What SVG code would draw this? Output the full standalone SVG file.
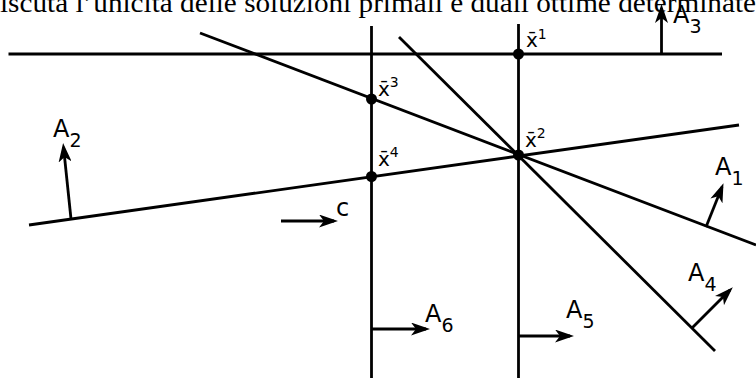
<svg xmlns="http://www.w3.org/2000/svg" width="756" height="378" viewBox="0 0 756 378">
<style>
.ln{stroke:#000;stroke-width:2.8;fill:none}
.ar{stroke:#000;stroke-width:2.8;fill:none;marker-end:url(#ah)}
.lb{font-family:"DejaVu Sans",sans-serif;font-size:24px;fill:#000}
.sb{font-size:19px}
.pt{font-family:"DejaVu Sans",sans-serif;font-size:20px;fill:#000}
.sp{font-size:14px}
.hd{font-family:"Liberation Serif",serif;font-size:28px;fill:#000}
</style>
<defs>
<marker id="ah" markerUnits="userSpaceOnUse" viewBox="0 0 19 13" refX="15" refY="6.5" markerWidth="19" markerHeight="13" orient="auto">
<path d="M0,0 L19,6.5 L0,13 L5,6.5 Z" fill="#000"/>
</marker>
</defs>
<rect width="756" height="378" fill="#fff"/>
<text class="hd" x="0" y="12" textLength="756" lengthAdjust="spacingAndGlyphs">iscuta l’unicità delle soluzioni primali e duali ottime determinate</text>
<g id="connectors">
<g id="A3"><path class="ln" d="M8.5,54 H722"/><path class="ar" d="M661.5,54 V8"/>
<text class="lb" x="673" y="23">A<tspan class="sb" dy="10">3</tspan></text></g>
<g id="A6"><path class="ln" d="M371.5,26 V378"/><path class="ar" d="M371.5,329 H426"/>
<text class="lb" x="425" y="322">A<tspan class="sb" dy="10">6</tspan></text></g>
<g id="A5"><path class="ln" d="M518.5,24 V378"/><path class="ar" d="M518.5,336 H570"/>
<text class="lb" x="566" y="318">A<tspan class="sb" dy="10">5</tspan></text></g>
<g id="A1"><path class="ln" d="M200,33 L756,245"/><path class="ar" d="M706,227 L722,187"/>
<text class="lb" x="715" y="175">A<tspan class="sb" dy="10">1</tspan></text></g>
<g id="A4"><path class="ln" d="M399,37 L715,351"/><path class="ar" d="M692,328 L730,290"/>
<text class="lb" x="688" y="281">A<tspan class="sb" dy="10">4</tspan></text></g>
<g id="A2"><path class="ln" d="M29,225 L739,125"/><path class="ar" d="M71,219 L63.5,147"/>
<text class="lb" x="53" y="137">A<tspan class="sb" dy="10">2</tspan></text></g>
</g>
<g id="c"><path class="ar" d="M281,221 H334"/><text class="lb" x="336" y="216">c</text></g>
<g id="x1"><circle cx="518.5" cy="54" r="5.5"/><text class="pt" x="526" y="47">x̄<tspan class="sp" dy="-8">1</tspan></text></g>
<g id="x2"><circle cx="518.5" cy="155" r="5.5"/><text class="pt" x="525" y="147">x̄<tspan class="sp" dy="-9">2</tspan></text></g>
<g id="x3"><circle cx="371.5" cy="99" r="5.5"/><text class="pt" x="378" y="96">x̄<tspan class="sp" dy="-9">3</tspan></text></g>
<g id="x4"><circle cx="371.5" cy="176.5" r="5.5"/><text class="pt" x="378" y="166">x̄<tspan class="sp" dy="-9">4</tspan></text></g>
</svg>
